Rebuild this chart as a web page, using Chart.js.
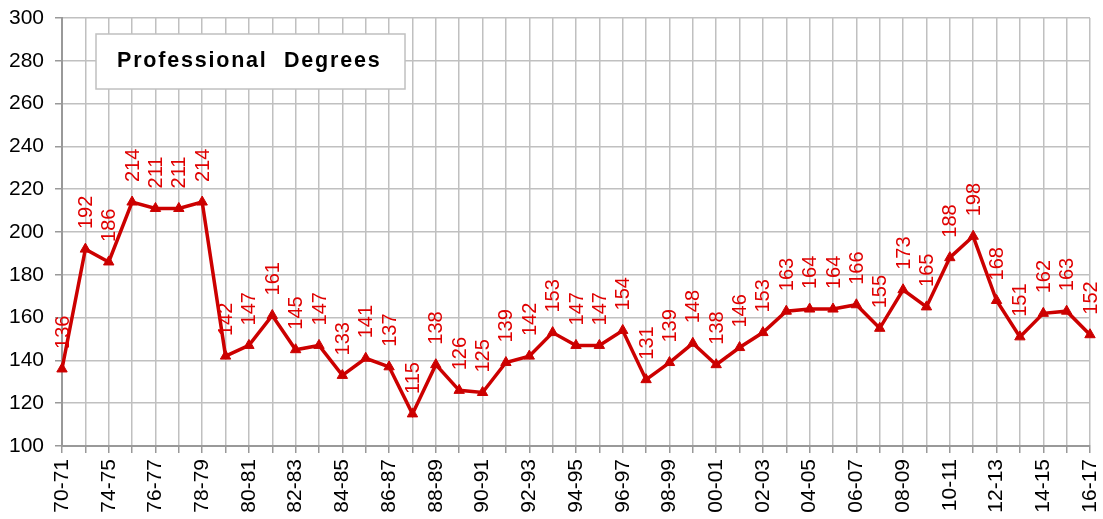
<!DOCTYPE html>
<html>
<head>
<meta charset="utf-8">
<script src="https://cdn.jsdelivr.net/npm/chart.js@4/dist/chart.umd.min.js"></script>
<style>
html,body{margin:0;padding:0;background:#fff;}
#wrap{width:1103px;height:519px;}
</style>
</head>
<body>
<div id="wrap"><canvas id="c" width="1103" height="519"></canvas></div>
<script>
const categories = ["70-71","72-73","74-75","75-76","76-77","77-78","78-79","79-80","80-81","81-82","82-83","83-84","84-85","85-86","86-87","87-88","88-89","89-90","90-91","91-92","92-93","93-94","94-95","95-96","96-97","97-98","98-99","99-00","00-01","01-02","02-03","03-04","04-05","05-06","06-07","07-08","08-09","09-10","10-11","11-12","12-13","13-14","14-15","15-16","16-17"];
const degrees = [136,192,186,214,211,211,214,142,147,161,145,147,133,141,137,115,138,126,125,139,142,153,147,147,154,131,139,148,138,146,153,163,164,164,166,155,173,165,188,198,168,151,162,163,152];
const chartTitle = "Professional Degrees";

const FONT = '"Liberation Sans", Arial, sans-serif';

const labelPlugin = {
  id: 'labels',
  afterDatasetsDraw(chart) {
    const ctx = chart.ctx;
    const meta = chart.getDatasetMeta(0);
    ctx.save();
    ctx.fillStyle = '#E00000';
    ctx.font = '20px ' + FONT;
    ctx.textAlign = 'left';
    ctx.textBaseline = 'middle';
    meta.data.forEach((pt, i) => {
      ctx.save();
      ctx.translate(pt.x + 1, pt.y - 20);
      ctx.rotate(-Math.PI / 2);
      ctx.fillText(String(degrees[i]), 0, 0);
      ctx.restore();
    });
    ctx.restore();
  }
};

const titlePlugin = {
  id: 'titlebox',
  afterDraw(chart) {
    const ctx = chart.ctx;
    ctx.save();
    ctx.fillStyle = '#fff';
    ctx.fillRect(96, 34, 309, 55);
    ctx.strokeStyle = '#c0c0c0';
    ctx.lineWidth = 1.5;
    ctx.strokeRect(96, 34, 309, 55);
    ctx.fillStyle = '#000';
    ctx.font = 'bold 21.5px ' + FONT;
    ctx.textBaseline = 'middle';
    ctx.textAlign = 'left';
    if (ctx.letterSpacing !== undefined) ctx.letterSpacing = '1.8px';
    const words = chartTitle.split(' ');
    ctx.fillText(words[0], 117, 61);
    ctx.fillText(words[1], 284, 61);
    ctx.restore();
  }
};

new Chart(document.getElementById('c'), {
  type: 'line',
  data: {
    labels: categories,
    datasets: [{
      data: degrees,
      borderColor: '#CC0000',
      backgroundColor: '#CC0000',
      borderWidth: 3.5,
      pointStyle: 'triangle',
      pointRadius: 6,
      pointBorderWidth: 1,
      tension: 0,
      fill: false
    }]
  },
  options: {
    responsive: false,
    animation: false,
    layout: { padding: { top: 18, right: 13, left: 0, bottom: 0 } },
    plugins: { legend: { display: false }, tooltip: { enabled: false } },
    scales: {
      x: {
        offset: false,
        grid: { color: '#c0c0c0', lineWidth: 1.5, tickLength: 7, tickColor: '#999' },
        border: { color: '#999', width: 2 },
        ticks: {
          autoSkip: false,
          maxRotation: 90,
          minRotation: 90,
          color: '#000',
          font: { family: FONT, size: 21 },
          padding: 6,
          callback: function(v, i) { return i % 2 === 0 ? categories[i] : ''; }
        },
        afterFit(s) { s.height = 73; s.paddingRight = 0; s.paddingLeft = 0; }
      },
      y: {
        min: 100,
        max: 300,
        grid: { color: '#c0c0c0', lineWidth: 1.5, tickLength: 7, tickColor: '#999' },
        border: { color: '#999', width: 2 },
        ticks: {
          stepSize: 20,
          color: '#000',
          font: { family: FONT, size: 21 },
          padding: 11
        },
        afterFit(s) { s.width = 62; s.paddingTop = 0; s.paddingBottom = 0; }
      }
    }
  },
  plugins: [labelPlugin, titlePlugin]
});
</script>
</body>
</html>
